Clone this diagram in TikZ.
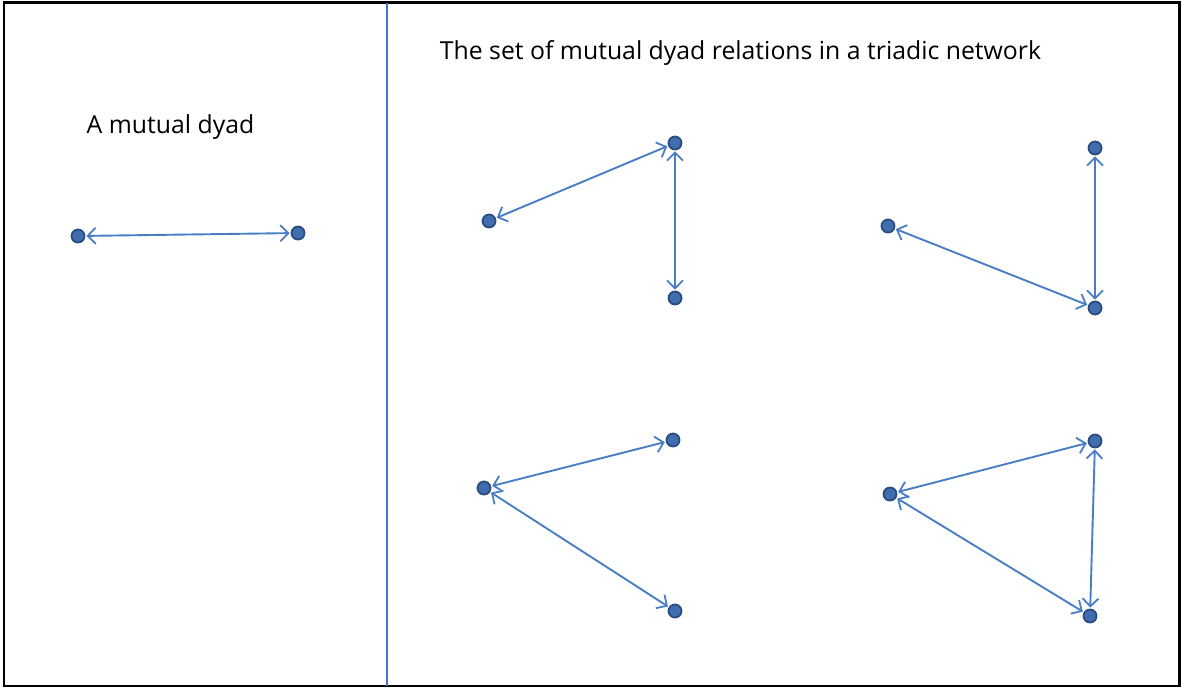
\documentclass[tikz,border=0pt]{standalone}
\usepackage{fontspec}
\setmainfont{Open Sans}
\usetikzlibrary{arrows.meta}
\definecolor{edgeblue}{HTML}{4A7EC4}
\definecolor{nodefill}{HTML}{3F6DAD}
\definecolor{nodeline}{HTML}{2A4C7E}
\definecolor{divblue}{HTML}{4472C4}
\tikzset{
  vert/.style={circle,fill=nodefill,draw=nodeline,line width=1.8pt,minimum size=13pt,inner sep=0pt},
  mutual/.style={edgeblue,line width=1.9pt,{Straight Barb[length=8pt,width=16pt,line width=1.8pt]}-{Straight Barb[length=8pt,width=16pt,line width=1.8pt]},shorten <=1pt,shorten >=1pt},
  lbl/.style={font=\fontsize{24.8}{29}\selectfont,text=black}
}
\begin{document}
\begin{tikzpicture}[x=1pt,y=-1pt]
\useasboundingbox (0,0) rectangle (1182,689);
\draw[black,line width=2.6pt] (4,2.5) rectangle (1179.5,686);
\draw[divblue,line width=1.8pt] (387,2.5) -- (387,686);
\node[lbl] (t1) at (170.5,127) {A mutual dyad};
\node[lbl] (t2) at (740.5,53) {The set of mutual dyad relations in a triadic network};
% left dyad
\node[vert] (A) at (78,236) {};
\node[vert] (B) at (298,233) {};
\draw[mutual] (A) -- (B);
% panel 1
\node[vert] (a) at (489,221) {};
\node[vert] (b) at (675,143) {};
\node[vert] (c) at (675,298) {};
\draw[mutual] (a) -- (b);
\draw[mutual] (b) -- (c);
% panel 2
\node[vert] (d) at (888,226) {};
\node[vert] (e) at (1095,148) {};
\node[vert] (f) at (1095,308) {};
\draw[mutual] (d) -- (f);
\draw[mutual] (e) -- (f);
% panel 3
\node[vert] (g) at (484,488) {};
\node[vert] (h) at (673,440) {};
\node[vert] (i) at (675,611) {};
\draw[mutual] (g) -- (h);
\draw[mutual] (g) -- (i);
% panel 4
\node[vert] (j) at (890,494) {};
\node[vert] (k) at (1095,441) {};
\node[vert] (l) at (1090,616) {};
\draw[mutual] (j) -- (k);
\draw[mutual] (j) -- (l);
\draw[mutual] (k) -- (l);
\end{tikzpicture}
\end{document}
